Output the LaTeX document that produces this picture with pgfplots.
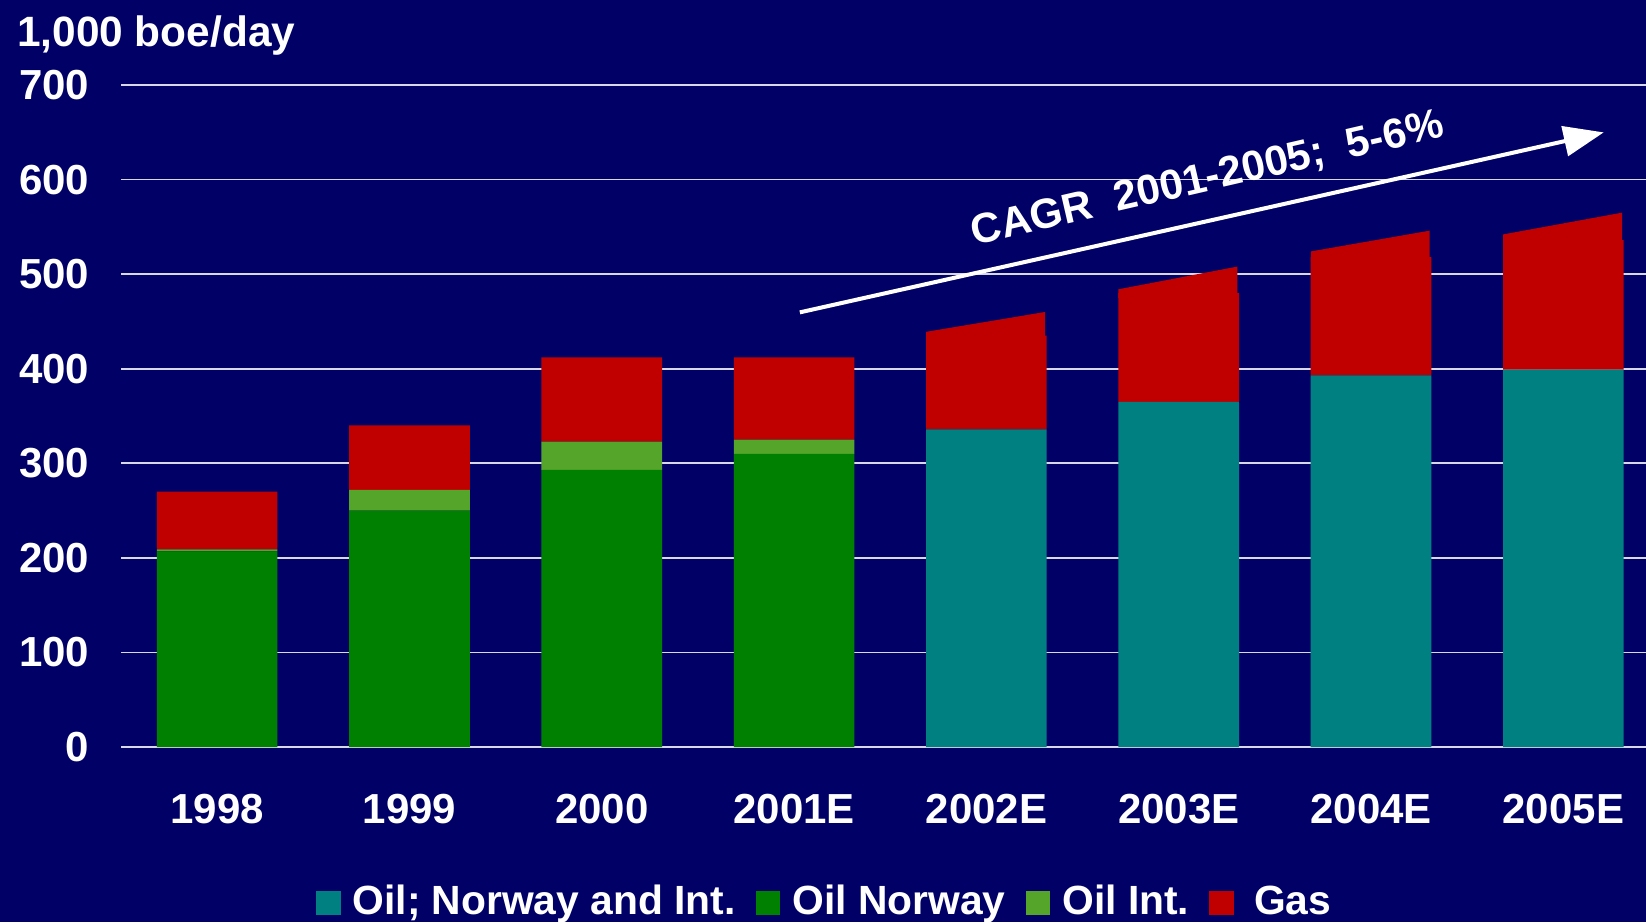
\documentclass[border=0pt]{standalone}
\usepackage{pgfplots}
\pgfplotsset{compat=1.18}
\usepackage{fontspec}
\setmainfont{Liberation Sans}
\usetikzlibrary{arrows.meta}
\definecolor{bg}{RGB}{0,0,102}
\definecolor{oilteal}{RGB}{0,128,128}
\definecolor{oilgreen}{RGB}{0,128,0}
\definecolor{intgreen}{RGB}{85,165,42}
\definecolor{gasred}{RGB}{192,0,0}
\definecolor{gridc}{RGB}{215,215,230}
\newcommand\lbl{\bfseries\fontsize{10.5}{12}\selectfont}
\pgfplotsset{
  sq/.style={legend image code/.code={\fill[##1] (0pt,-3.1pt) rectangle (6.2pt,3.1pt);}},
  frame/.style={scale only axis, width=381.25pt, height=165.5pt,
    xmin=-0.5, xmax=7.43, ymin=0, ymax=700,
    at={(0,0)}, anchor=south west},
}
\begin{document}
\begin{tikzpicture}
\fill[bg] (-30.25pt,-43.75pt) rectangle (381.25pt,186.75pt);
\begin{scope}
\clip (-30.25pt,-43.75pt) rectangle (381.25pt,186.75pt);
\begin{axis}[frame,
  ybar stacked, bar width=0.627,
  axis line style={draw=none}, tick style={draw=none},
  ymajorgrids, grid style={gridc, line width=0.45pt},
  ytick={0,100,...,700},
  xtick={0,...,7},
  xticklabels={1998,1999,2000,2001E,2002E,2003E,2004E,2005E},
  /pgf/number format/assume math mode=true,
  every tick label/.append style={font=\lbl, text=white},
  xticklabel style={anchor=center, yshift=-15.5pt},
  yticklabel style={anchor=east, inner sep=0pt, xshift=-7.75pt},
  legend columns=4,
  legend style={draw=none, fill=none, text=white, font=\bfseries\fontsize{10.2}{12}\selectfont,
    at={(0.1272,-0.2357)}, anchor=west, inner sep=0pt,
    nodes={inner xsep=1.5pt, inner ysep=0pt},
    /tikz/every odd column/.append style={column sep=1.5pt},
    /tikz/every even column/.append style={column sep=3.5pt}},
]
\addplot[fill=oilteal, draw=none, sq] coordinates {(0,0) (1,0) (2,0) (3,0) (4,336) (5,365) (6,393) (7,399)};
\addplot[fill=oilgreen, draw=none, sq] coordinates {(0,207) (1,250) (2,293) (3,310) (4,0) (5,0) (6,0) (7,0)};
\addplot[fill=intgreen, draw=none, sq] coordinates {(0,2) (1,22) (2,30) (3,15) (4,0) (5,0) (6,0) (7,0)};
\addplot[fill=gasred, draw=none, sq] coordinates {(0,61) (1,68) (2,89) (3,87) (4,99) (5,115) (6,125) (7,137)};
\legend{Oil; Norway and Int., Oil Norway, Oil Int., \hspace{2pt}Gas}
\end{axis}
\begin{axis}[frame, hide axis, clip=false]
% sloped tops of the estimated gas ranges
\addplot[fill=gasred, draw=none] coordinates {(3.6865,430) (3.6865,439) (4.305,460) (4.305,430)} --cycle;
\addplot[fill=gasred, draw=none] coordinates {(4.6865,475) (4.6865,484) (5.305,508) (5.305,475)} --cycle;
\addplot[fill=gasred, draw=none] coordinates {(5.6865,513) (5.6865,524) (6.305,546) (6.305,513)} --cycle;
\addplot[fill=gasred, draw=none] coordinates {(6.6865,531) (6.6865,542) (7.305,565) (7.305,531)} --cycle;
\draw[white, line width=1pt, -{Triangle[length=10pt,width=7.5pt]}] (axis cs:3.03,459.6) -- (axis cs:7.21,649.9);
\node[rotate=13, text=white, font=\lbl] at (axis cs:5.15,600) {CAGR\ \ 2001-2005;\ \ 5-6\%};
\end{axis}
\node[anchor=base west, text=white, font=\bfseries\fontsize{10.6}{13}\selectfont] at (-29.5pt,175pt) {1,000 boe/day};
\end{scope}
\pgfresetboundingbox
\path[use as bounding box] (-30.25pt,-43.75pt) rectangle (381.25pt,186.75pt);
\end{tikzpicture}
\end{document}
